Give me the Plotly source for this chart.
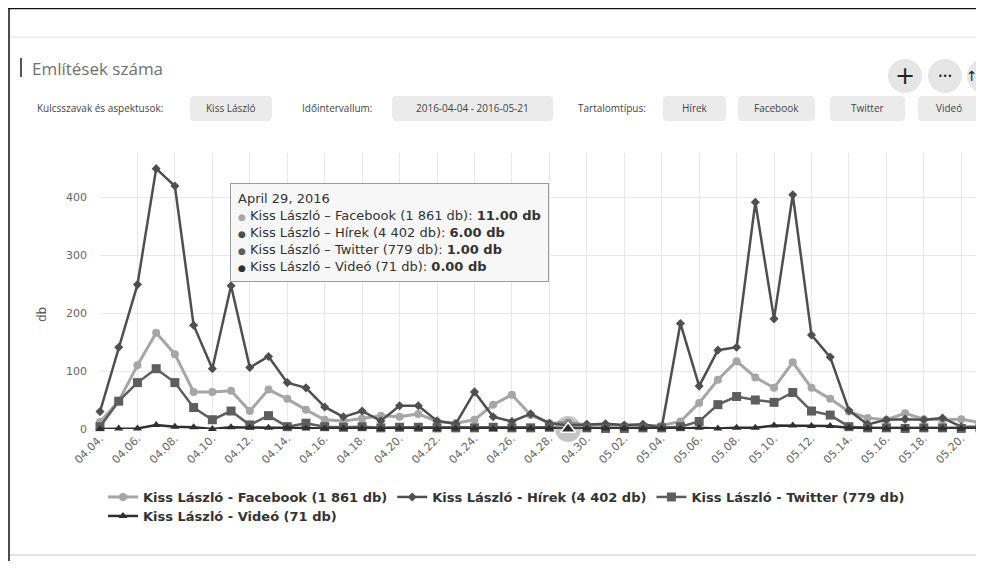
import plotly.graph_objects as go
import pandas as pd

# ---------------- data ----------------
dates = pd.date_range("2016-04-04", "2016-05-21", freq="D")
keyword = "Kiss László"
series_names = ["Facebook", "Hírek", "Twitter", "Videó"]
series_totals = [1861, 4402, 779, 71]
facebook = [12, 48, 110, 166, 129, 64, 64, 66, 31, 68,
            52, 33, 16, 14, 18, 23, 21, 26, 13, 10,
            16, 42, 59, 24, 10, 11, 7, 6, 5, 6,
            6, 13, 45, 85, 117, 89, 71, 115, 71, 52,
            30, 19, 16, 27, 17, 16, 17, 11]
hirek = [30, 141, 249, 449, 419, 179, 104, 247, 106, 125,
         80, 71, 38, 21, 31, 14, 40, 40, 14, 9,
         64, 21, 13, 26, 10, 6, 8, 9, 7, 8,
         2, 182, 74, 136, 141, 391, 190, 404, 162, 124,
         32, 8, 16, 17, 16, 19, 4, 4]
twitter = [4, 48, 80, 104, 80, 37, 16, 31, 7, 23,
           4, 10, 4, 3, 4, 2, 3, 3, 2, 2,
           2, 3, 2, 2, 3, 1, 2, 1, 1, 2,
           2, 4, 13, 42, 56, 50, 46, 63, 31, 24,
           4, 2, 2, 1, 2, 2, 1, 2]
video = [0, 1, 1, 7, 4, 3, 0, 3, 2, 2,
         2, 1, 1, 1, 1, 0, 1, 1, 0, 1,
         1, 0, 1, 1, 1, 0, 1, 1, 1, 1,
         1, 1, 2, 1, 2, 2, 6, 6, 5, 5,
         2, 1, 1, 1, 1, 1, 1, 1]
y_ticks = [0, 100, 200, 300, 400]
tooltip_date = "2016-04-29"
filter_labels = ["Kulcsszavak és aspektusok:", "Időintervallum:", "Tartalomtípus:"]
filter_buttons = ["Kiss László", "2016-04-04 - 2016-05-21", "Hírek", "Facebook", "Twitter", "Videó"]
title_text = "Említések száma"

# ---------------- styling ----------------
W, H = 976, 553
OFF = 8  # default body margin of the page


def X(px):
    return (px - OFF) / W


def Y(py):
    return 1 - (py - OFF) / H


colors = ["#a6a6a6", "#4f4f4f", "#5e5e5e", "#2f2f2f"]
symbols = ["circle", "diamond", "square", "triangle-up"]
msizes = [8, 7, 9, 8]
lwidths = [3, 2.5, 2.5, 2.5]
values = [facebook, hirek, twitter, video]
legend_ids = ["legend", "legend", "legend", "legend2"]


def fmt_total(n):
    return f"{n:,}".replace(",", " ")


fig = go.Figure()
for name, tot, vals, c, s, ms, lw, lg in zip(series_names, series_totals, values,
                                             colors, symbols, msizes, lwidths, legend_ids):
    fig.add_trace(go.Scatter(
        x=dates, y=vals, mode="lines+markers",
        name=f"{keyword} - {name} ({fmt_total(tot)} db)",
        line=dict(color=c, width=lw),
        marker=dict(symbol=s, size=ms, color=c),
        cliponaxis=False, hoverinfo="skip", legend=lg,
    ))

# hover halo on the tooltip date (Videó point)
ti = list(dates.strftime("%Y-%m-%d")).index(tooltip_date)
fig.add_trace(go.Scatter(
    x=[dates[ti]], y=[video[ti]], mode="markers", showlegend=False,
    marker=dict(size=26, color="rgba(90,90,90,0.35)"), cliponaxis=False, hoverinfo="skip"))
fig.add_trace(go.Scatter(
    x=[dates[ti]], y=[video[ti]], mode="markers", showlegend=False,
    marker=dict(symbol="triangle-up", size=13, color=colors[3],
                line=dict(color="white", width=1.5)),
    cliponaxis=False, hoverinfo="skip"))

shapes = []
annotations = []

# page frame lines
shapes.append(dict(type="line", xref="paper", yref="paper", x0=X(8), x1=1,
                   y0=Y(8.5), y1=Y(8.5), line=dict(color="#111", width=1.5)))
shapes.append(dict(type="line", xref="paper", yref="paper", x0=X(9), x1=X(9),
                   y0=Y(8), y1=0, line=dict(color="#111", width=1.5)))
shapes.append(dict(type="line", xref="paper", yref="paper", x0=X(10), x1=1,
                   y0=Y(37), y1=Y(37), line=dict(color="#e8e8e8", width=1.5)))
shapes.append(dict(type="line", xref="paper", yref="paper", x0=X(10), x1=1,
                   y0=Y(555), y1=Y(555), line=dict(color="#e4e4e4", width=2)))

# title
shapes.append(dict(type="line", xref="paper", yref="paper", x0=X(21), x1=X(21),
                   y0=Y(58), y1=Y(77), line=dict(color="#555", width=2)))
annotations.append(dict(text=title_text, x=X(30), y=Y(69), xref="paper", yref="paper",
                        xanchor="left", yanchor="middle", showarrow=False,
                        font=dict(family="Open Sans", size=17, color="#707070")))

# round icon buttons
for cx, gx, sym, fs in [(905, 905, "+", 24), (945, 945, "•••", 8), (984, 972, "↑", 14)]:
    r = 17
    shapes.append(dict(type="circle", xref="paper", yref="paper",
                       x0=X(cx - r), x1=X(cx + r), y0=Y(76 - r), y1=Y(76 + r),
                       fillcolor="#e6e6e6", line=dict(width=0)))
    annotations.append(dict(text=sym, x=X(gx), y=Y(76), xref="paper", yref="paper",
                            showarrow=False, xanchor="center", yanchor="middle",
                            font=dict(family="DejaVu Sans", size=fs, color="#222")))


def rrect(x0, y0, x1, y1, r=4):
    rx, ry = r / W, r / H
    a0, a1 = X(x0), min(X(x1), 1.0)
    b0, b1 = Y(y0), Y(y1)  # b0 top (larger), b1 bottom
    return (f"M {a0+rx},{b0} L {a1-rx},{b0} Q {a1},{b0} {a1},{b0-ry} "
            f"L {a1},{b1+ry} Q {a1},{b1} {a1-rx},{b1} L {a0+rx},{b1} "
            f"Q {a0},{b1} {a0},{b1+ry} L {a0},{b0-ry} Q {a0},{b0} {a0+rx},{b0} Z")


row_y = 108
label_x = [35, 300, 576]
for t, lx in zip(filter_labels, label_x):
    annotations.append(dict(text=t, x=X(lx), y=Y(row_y), xref="paper", yref="paper",
                            xanchor="left", yanchor="middle", showarrow=False,
                            font=dict(family="Open Sans", size=10, color="#444")))
button_x = [(190, 272), (392, 553), (663, 726), (738, 815), (830, 905), (918, 990)]
for t, (bx0, bx1) in zip(filter_buttons, button_x):
    shapes.append(dict(type="path", xref="paper", yref="paper", path=rrect(bx0, 96, bx1, 121),
                       fillcolor="#ebebeb", line=dict(width=0)))
    cx = (bx0 + min(bx1, 976 + 8)) / 2 if bx1 < 984 else 949
    annotations.append(dict(text=t, x=X(cx), y=Y(row_y), xref="paper", yref="paper",
                            xanchor="center", yanchor="middle", showarrow=False,
                            font=dict(family="Open Sans", size=10, color="#444")))

# y axis title
annotations.append(dict(text="db", x=X(42), y=Y(315), xref="paper", yref="paper",
                        textangle=-90, showarrow=False, xanchor="center", yanchor="middle",
                        font=dict(family="DejaVu Sans", size=12, color="#555")))

# tooltip
tip_lines = [pd.Timestamp(tooltip_date).strftime("%B %-d, %Y")]
for name, tot, vals, c in zip(series_names, series_totals, values, colors):
    tip_lines.append(
        f"<span style='color:{c};font-size:9px'>●</span> {keyword} – {name} ({fmt_total(tot)} db): "
        f"<b>{vals[ti]:.2f} db</b>")
annotations.append(dict(text="<br>".join(tip_lines), x=X(230), y=Y(183), xref="paper", yref="paper",
                        xanchor="left", yanchor="top", align="left", showarrow=False,
                        bgcolor="rgba(247,247,247,0.96)", bordercolor="#9a9a9a", borderwidth=1,
                        borderpad=7,
                        font=dict(family="DejaVu Sans", size=13, color="#333")))

legend_font = dict(family="DejaVu Sans", size=13, color="#333", weight="bold")
fig.update_layout(
    width=W, height=H,
    margin=dict(l=0, r=0, t=0, b=0),
    paper_bgcolor="white", plot_bgcolor="white",
    showlegend=True,
    legend=dict(orientation="h", x=X(103), y=Y(497), xanchor="left", yanchor="middle",
                font=legend_font, bgcolor="rgba(0,0,0,0)",
                itemclick=False, itemdoubleclick=False),
    legend2=dict(orientation="h", x=X(103), y=Y(516), xanchor="left", yanchor="middle",
                 font=legend_font, bgcolor="rgba(0,0,0,0)",
                 itemclick=False, itemdoubleclick=False),
    xaxis=dict(domain=[X(100), X(980)], range=[dates[0], dates[-1]],
               type="date", tick0=dates[0], dtick=2 * 86400000, tickformat="%m.%d.",
               tickangle=-45, showgrid=True, gridcolor="#e8e8e8", gridwidth=1,
               zeroline=False, showline=False, ticks="",
               tickfont=dict(family="DejaVu Sans", size=11, color="#666"),
               automargin=False, fixedrange=True),
    yaxis=dict(domain=[Y(429), Y(153)], range=[0, 476], tickvals=y_ticks,
               showgrid=True, gridcolor="#e8e8e8", gridwidth=1, zeroline=False,
               showline=False, ticks="", ticklabelstandoff=12,
               tickfont=dict(family="DejaVu Sans", size=11, color="#666"),
               automargin=False, fixedrange=True),
    shapes=shapes, annotations=annotations,
    hovermode=False,
)

fig.write_html("out.html", config={"displayModeBar": False})
